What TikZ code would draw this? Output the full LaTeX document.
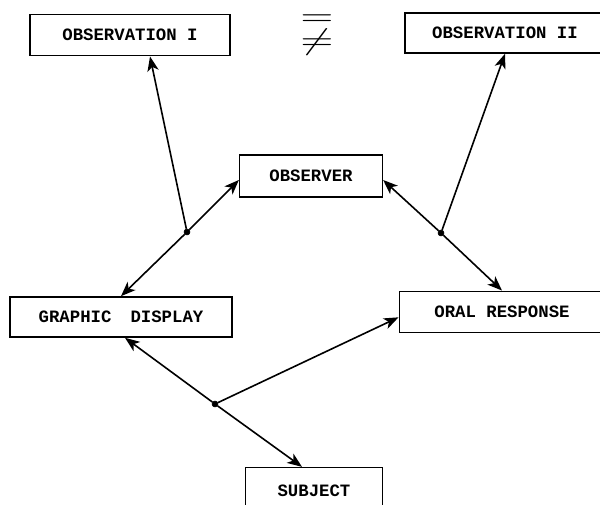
\documentclass[tikz,border=0pt]{standalone}
\usepackage{fontspec}
\setmonofont{Liberation Mono}
\usetikzlibrary{arrows.meta}

\newcommand*{\picw}{600}
\newcommand*{\pich}{505}

\begin{document}
\begin{tikzpicture}
[
	x=0.75pt, y=-0.75pt,
	box/.style={draw,line width=1.2pt,inner sep=0pt,font=\ttfamily\bfseries\fontsize{13}{15}\selectfont},
	junction/.style={circle,draw,fill,inner sep=0pt,minimum size=4.5pt},
	link/.style={line width=1.2pt,-{Stealth[length=11pt,width=8.5pt,inset=3pt]}}
]

	\useasboundingbox (0,0) rectangle (\picw,\pich);
	\clip (0,0) rectangle (\picw,\pich);

	% boxes
	\node[box,minimum width=150pt,minimum height=31pt] at (130,35) (obsI) {OBSERVATION I};
	\node[box,minimum width=150pt,minimum height=30pt] at (505,33) (obsII) {OBSERVATION II};
	\node[box,minimum width=107pt,minimum height=31.5pt] at (311,176) (observer) {OBSERVER};
	\node[box,minimum width=166.5pt,minimum height=30pt] at (121,317) (graphic) {GRAPHIC\enspace{} DISPLAY};
	\node[box,minimum width=154pt,minimum height=31pt] at (502,312) (oral) {ORAL RESPONSE};
	\node[box,minimum width=103pt,minimum height=35pt] at (314,491) (subject) {SUBJECT};

	% equal / not equal
	\node[inner sep=0pt] at (317,35) (rel)
		{\scalebox{3.2}[2.2]{\shortstack{$=$\\[-1.5pt]$\neq$}}};

	% junctions
	\node[junction] at (187,232) (j1) {};
	\node[junction] at (441,233) (j2) {};
	\node[junction] at (215,404) (j3) {};

	% links
	\draw[link] (j1) -- ([xshift=15pt]obsI.south);
	\draw[link] (j1) -- ([yshift=-3pt]observer.west);
	\draw[link] (j1) -- (graphic.north);

	\draw[link] (j2) -- (obsII.south);
	\draw[link] (j2) -- ([yshift=-3pt]observer.east);
	\draw[link] (j2) -- (oral.north);

	\draw[link] (j3) -- ([xshift=3pt]graphic.south);
	\draw[link] (j3) -- ([yshift=-4pt]oral.west);
	\draw[link] (j3) -- ([xshift=-9pt]subject.north);

\end{tikzpicture}
\end{document}
